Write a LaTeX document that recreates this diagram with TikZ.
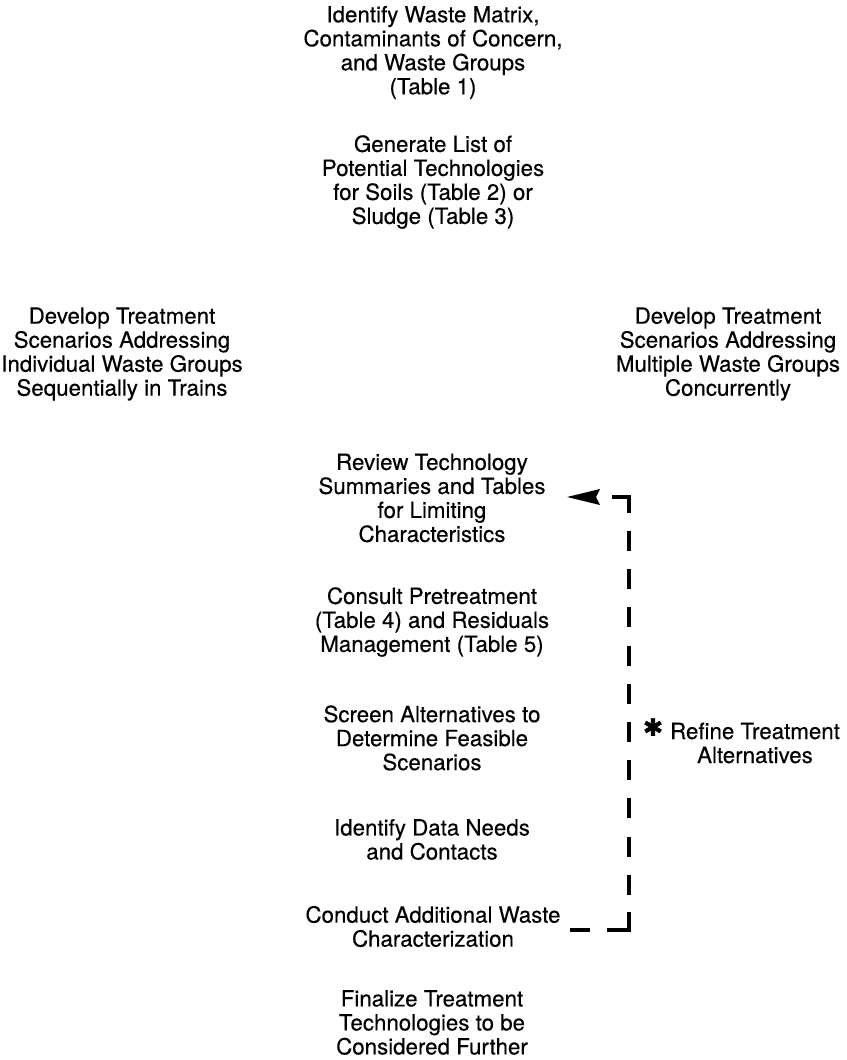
\documentclass[tikz,border=0pt]{standalone}
\usepackage{fontspec}
\setmainfont{TeX Gyre Heros}[FakeBold=0.3]
\newfontfamily\symfont{DejaVu Sans}[FakeBold=1.5]
\begin{document}
\begin{tikzpicture}[x=1pt,y=-1pt,
  txt/.style={align=center, font=\fontsize{22.3}{24}\selectfont, inner sep=0pt},
  fb/.style={line width=3.5pt},
  fbdash/.style={line width=3.5pt, dash pattern=on 20pt off 18.2pt}]
\useasboundingbox[fill=white] (0,0) rectangle (846,1060);
\node[txt] (ident) at (433,52.5) {Identify Waste Matrix,\\Contaminants of Concern,\\and Waste Groups\\(Table 1)};
\node[txt] (gen) at (433,182) {Generate List of\\Potential Technologies\\for Soils (Table 2) or\\Sludge (Table 3)};
\node[txt] (devl) at (122,354) {Develop Treatment\\Scenarios Addressing\\Individual Waste Groups\\Sequentially in Trains};
\node[txt] (devr) at (728,354) {Develop Treatment\\Scenarios Addressing\\Multiple Waste Groups\\Concurrently};
\node[txt] (review) at (432,498) {Review Technology\\Summaries and Tables\\for Limiting\\Characteristics};
\node[txt] (consult) at (432,622) {Consult Pretreatment\\(Table 4) and Residuals\\Management (Table 5)};
\node[txt] (screen) at (432,738) {Screen Alternatives to\\Determine Feasible\\Scenarios};
\node[txt] (data) at (432,839.5) {Identify Data Needs\\and Contacts};
\node[txt] (conduct) at (433,926.5) {Conduct Additional Waste\\Characterization};
\node[txt] (final) at (432,1022.5) {Finalize Treatment\\Technologies to be\\Considered Further};
\node[txt] (refine) at (755,743) {Refine Treatment\\Alternatives};
\node[inner sep=0pt, font=\symfont\fontsize{24}{24}\selectfont] (star) at (653,727) {✱};
% feedback loop
\coordinate (b0) at (570,930);
\coordinate (b1) at (590,930);
\coordinate (b2) at (607,930);
\coordinate (bc) at (629,930);
\coordinate (b3) at (629,912);
\coordinate (v0) at (629,913);
\coordinate (v1) at (629,531);
\coordinate (t3) at (629,513);
\coordinate (tc) at (629,497);
\coordinate (t2) at (612,497);
\coordinate (tip) at (567,497);
\draw[fb] (b0) -- (b1);
\draw[fb] (b2) -- (bc) -- (b3);
\draw[fbdash] (v1) -- (v0);
\draw[fb] (t3) -- (tc) -- (t2);
\fill (tip) -- ++(33,-8) -- ++(-4,8) -- ++(4,8) -- cycle;
\end{tikzpicture}
\end{document}
